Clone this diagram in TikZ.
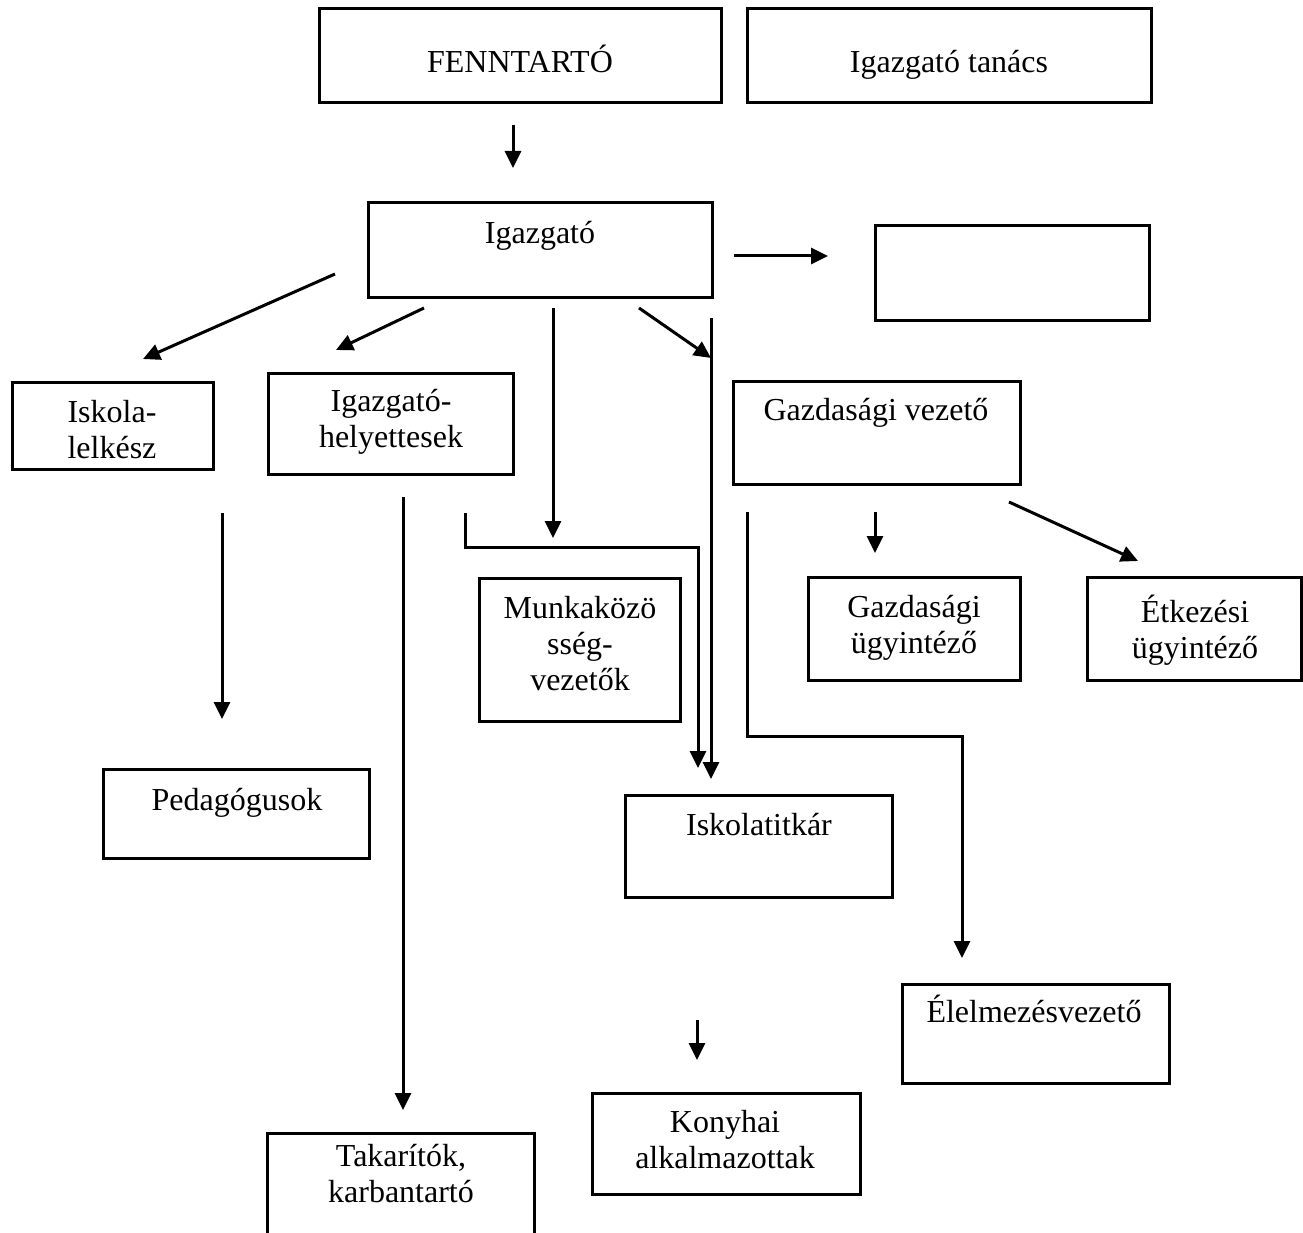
\documentclass[tikz,border=0pt]{standalone}
\usepackage{fontspec}
\setmainfont{Liberation Serif}
\usetikzlibrary{arrows.meta}
\begin{document}
\begin{tikzpicture}[x=1pt,y=-1pt,
  box/.style={draw, line width=3pt, inner sep=0pt, outer sep=0pt, anchor=north west},
  txt/.style={anchor=base, align=center, inner sep=0pt, font=\fontsize{32}{36}\selectfont},
  arr/.style={line width=3pt, -{Triangle[length=17pt,width=16pt]}},
  ln/.style={line width=3pt}]
\useasboundingbox (0,0) rectangle (1303,1233);
% boxes
\node[box, minimum width=402pt, minimum height=94pt] (fenntarto) at (319,9) {};
\node[box, minimum width=404pt, minimum height=94pt] (tanacs) at (747,9) {};
\node[box, minimum width=344pt, minimum height=94pt] (igazgato) at (368,203) {};
\node[box, minimum width=274pt, minimum height=94pt] (ures) at (875,226) {};
\node[box, minimum width=201pt, minimum height=87pt] (lelkesz) at (12,382) {};
\node[box, minimum width=245pt, minimum height=101pt] (helyettes) at (268,373) {};
\node[box, minimum width=287pt, minimum height=103pt] (gazdvez) at (733,381) {};
\node[box, minimum width=201pt, minimum height=143pt] (munkak) at (479,578) {};
\node[box, minimum width=212pt, minimum height=103pt] (gazdugy) at (808,577) {};
\node[box, minimum width=214pt, minimum height=103pt] (etkugy) at (1087,577) {};
\node[box, minimum width=266pt, minimum height=89pt] (pedag) at (103,769) {};
\node[box, minimum width=267pt, minimum height=102pt] (titkar) at (625,795) {};
\node[box, minimum width=267pt, minimum height=99pt] (elelm) at (902,984) {};
\node[box, minimum width=268pt, minimum height=101pt] (konyha) at (592,1093) {};
\node[box, minimum width=267pt, minimum height=112pt] (takarit) at (267,1133) {};
% texts (anchor = baseline of the last line)
\node[txt] (t-fenntarto) at (520,73) {FENNTARTÓ};
\node[txt] (t-tanacs) at (949,73) {Igazgató tanács};
\node[txt] (t-igazgato) at (540,244) {Igazgató};
\node[txt] (t-lelkesz) at (112,458) {Iskola-\\lelkész};
\node[txt] (t-helyettes) at (391,447) {Igazgató-\\helyettesek};
\node[txt] (t-gazdvez) at (876,420) {Gazdasági vezető};
\node[txt] (t-munkak) at (580,690) {Munkaközö\\sség-\\vezetők};
\node[txt] (t-gazdugy) at (914,653) {Gazdasági\\ügyintéző};
\node[txt] (t-etkugy) at (1195,658) {Étkezési\\ügyintéző};
\node[txt] (t-pedag) at (237,810) {Pedagógusok};
\node[txt] (t-titkar) at (759,835) {Iskolatitkár};
\node[txt] (t-elelm) at (1034,1022) {Élelmezésvezető};
\node[txt] (t-konyha) at (725,1168) {Konyhai\\alkalmazottak};
\node[txt] (t-takarit) at (401,1202) {Takarítók,\\karbantartó};
% connector end points
\coordinate (a1s) at (513,125);  \coordinate (a1e) at (513,168);
\coordinate (a2s) at (734,256);  \coordinate (a2e) at (828,256);
\coordinate (a3s) at (335,274);  \coordinate (a3e) at (143,359);
\coordinate (a4s) at (424,308);  \coordinate (a4e) at (336,350);
\coordinate (a5s) at (553,308);  \coordinate (a5e) at (553,538);
\coordinate (a6s) at (639,308);  \coordinate (a6e) at (711,358);
\coordinate (a7s) at (711,318);  \coordinate (a7e) at (711,779);
\coordinate (a8s) at (465,513);  \coordinate (a8b1) at (465,547); \coordinate (a8b2) at (698,547); \coordinate (a8e) at (698,768);
\coordinate (a9s) at (222,513);  \coordinate (a9e) at (222,719);
\coordinate (a10s) at (403,497); \coordinate (a10e) at (403,1110);
\coordinate (a11s) at (747,512); \coordinate (a11b1) at (747,736); \coordinate (a11b2) at (962,736); \coordinate (a11e) at (962,958);
\coordinate (a12s) at (875,512); \coordinate (a12e) at (875,553);
\coordinate (a13s) at (1009,502); \coordinate (a13e) at (1138,561);
\coordinate (a14s) at (697,1020); \coordinate (a14e) at (697,1060);
% connectors
\draw[arr] (a1s) -- (a1e);
\draw[arr] (a2s) -- (a2e);
\draw[arr] (a3s) -- (a3e);
\draw[arr] (a4s) -- (a4e);
\draw[arr] (a5s) -- (a5e);
\draw[arr] (a6s) -- (a6e);
\draw[arr] (a7s) -- (a7e);
\draw[arr] (a8s) -- (a8b1) -- (a8b2) -- (a8e);
\draw[arr] (a9s) -- (a9e);
\draw[arr] (a10s) -- (a10e);
\draw[arr] (a11s) -- (a11b1) -- (a11b2) -- (a11e);
\draw[arr] (a12s) -- (a12e);
\draw[arr] (a13s) -- (a13e);
\draw[arr] (a14s) -- (a14e);
\end{tikzpicture}
\end{document}
